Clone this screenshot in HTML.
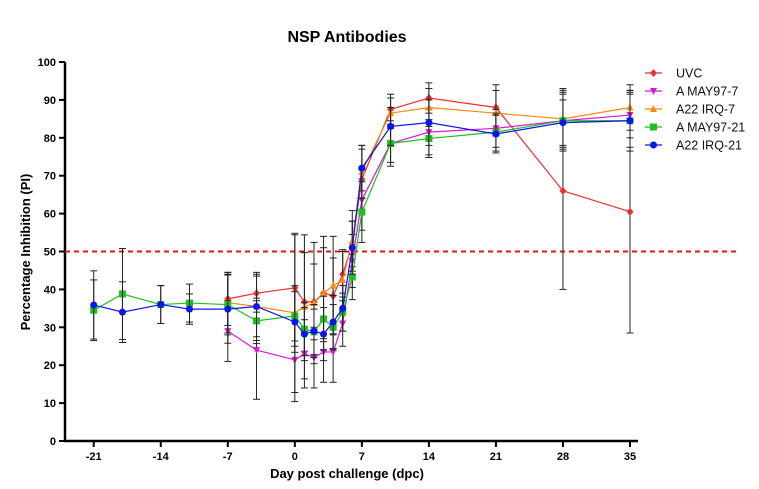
<!DOCTYPE html>
<html><head><meta charset="utf-8"><style>
body{margin:0;background:#fff;}
svg{display:block;font-family:"Liberation Sans",Arial,sans-serif;}
</style></head><body>
<svg id="chart" width="759" height="489">
<text x="347" y="42" text-anchor="middle" font-size="16" font-weight="bold">NSP Antibodies</text>
<text x="347" y="478" text-anchor="middle" font-size="13" font-weight="bold">Day post challenge (dpc)</text>
<text transform="translate(30,252) rotate(-90)" text-anchor="middle" font-size="13" font-weight="bold">Percentage Inhibition (PI)</text>
<g id="axes"></g><g id="marks"></g><g id="legend"></g>
</svg>
<script>
const xTicks=[-21,-14,-7,0,7,14,21,28,35];
const yTicks=[0,10,20,30,40,50,60,70,80,90,100];
const seriesNames=["UVC","A MAY97-7","A22 IRQ-7","A MAY97-21","A22 IRQ-21"];
const seriesColors=["#e8332f","#d21bd2","#f68b12","#1fbf1f","#0a16e8"];
const seriesShapes=["diamond","tri-down","tri-up","square","circle"];
const daysLate=[-7,-4,0,1,2,3,4,5,6,7,10,14,21,28,35];
const daysAll=[-21,-18,-14,-11,-7,-4,0,1,2,3,4,5,6,7,10,14,21,28,35];
const uvcVals=[37.5,39,40.4,36.7,36.7,39,38.3,44,52,69,87.5,90.5,88,66,60.5];
const uvcErr=[7,5,14,13,10,12,10,6,6,8,4,4,6,26,32];
const may7Vals=[29,24,21.4,23,22,23.5,23.5,31,47.5,63.6,78.5,81.5,82.5,84.5,86];
const may7Err=[8,13,11,9,8,8,8,6,7,8,5,6,5,7,6];
const irq7Vals=[36.5,35.5,33.8,35.4,36.4,39,41,42.5,52.8,71,86.5,88,86.5,85,88];
const irq7Err=[8,8,21,19,16,15,13,8,8,7,4,5,6,8,6];
const may21Vals=[34.5,38.8,36,36.4,36,31.7,33,29.5,28.8,32.2,30,34,43.3,60.4,78.5,79.8,81.5,84.5,84.5];
const may21Err=[8,12,5,5,8,6,8,7,6,6,6,5,6,8,6,5,5,8,7];
const irq21Vals=[35.9,34,36,34.8,34.8,35.5,31.4,28.2,29,28.2,31.4,35,51,72,83,84,81,84,84.5];
const irq21Err=[9,8,5,4,9,9,8,7,7,7,7,6,7,6,5,6,5,6,8];
const seriesDays=[daysLate,daysLate,daysLate,daysAll,daysAll];
const seriesVals=[uvcVals,may7Vals,irq7Vals,may21Vals,irq21Vals];
const seriesErrs=[uvcErr,may7Err,irq7Err,may21Err,irq21Err];
const NS="http://www.w3.org/2000/svg";
const X0=65,X1=630,Y0=441,Y1=62,DMIN=-24,DMAX=35;
function sx(d){return X0+(d-DMIN)/(DMAX-DMIN)*(X1-X0);}
function sy(v){return Y0-v/100*(Y0-Y1);}
function mk(tag,attrs,parent){const e=document.createElementNS(NS,tag);for(const k in attrs)e.setAttribute(k,attrs[k]);parent.appendChild(e);return e;}
const axes=document.getElementById('axes'),marks=document.getElementById('marks'),legend=document.getElementById('legend');
let a=mk('line',{x1:X0,y1:Y1,x2:X0,y2:Y0+1,stroke:'#000','stroke-width':2.5},axes);

a=mk('line',{x1:X0-1,y1:Y0,x2:X1+8,y2:Y0,stroke:'#000','stroke-width':2.5},axes);

yTicks.forEach(v=>{mk('line',{x1:X0-6,x2:X0,y1:sy(v),y2:sy(v),stroke:'#000','stroke-width':2},axes);
 const t=mk('text',{x:X0-9,y:sy(v)+4,'text-anchor':'end','font-size':11,'font-weight':'bold'},axes);t.textContent=v;
 });
xTicks.forEach(d=>{mk('line',{x1:sx(d),x2:sx(d),y1:Y0,y2:Y0+6,stroke:'#000','stroke-width':2},axes);
 const t=mk('text',{x:sx(d),y:Y0+19,'text-anchor':'middle','font-size':11,'font-weight':'bold'},axes);t.textContent=d;
 });
const ref=mk('line',{x1:X0,x2:737,y1:sy(50),y2:sy(50),stroke:'#e8131a','stroke-width':2,'stroke-dasharray':'5,4'},axes);

function marker(shape,x,y,c,p){const r=3.5;
 if(shape==='circle')return mk('circle',{cx:x,cy:y,r:r,fill:c},p);
 if(shape==='square')return mk('rect',{x:x-r,y:y-r,width:2*r,height:2*r,fill:c},p);
 if(shape==='diamond')return mk('polygon',{points:`${x},${y-r-0.5} ${x+r},${y} ${x},${y+r+0.5} ${x-r},${y}`,fill:c},p);
 if(shape==='tri-up')return mk('polygon',{points:`${x},${y-r-0.5} ${x+r},${y+r-0.5} ${x-r},${y+r-0.5}`,fill:c},p);
 return mk('polygon',{points:`${x},${y+r+0.5} ${x+r},${y-r+0.5} ${x-r},${y-r+0.5}`,fill:c},p);}
seriesNames.forEach((n,i)=>{
 const g=mk('g',{},marks);
 
 
 const ds=seriesDays[i],vs=seriesVals[i],es=seriesErrs[i],c=seriesColors[i];
 ds.forEach((d,j)=>{const x=sx(d),yt=sy(vs[j]+es[j]),yb=sy(Math.max(0,vs[j]-es[j]));
  mk('line',{x1:x,x2:x,y1:yt,y2:yb,stroke:'#222','stroke-width':1},g);
  mk('line',{x1:x-3.5,x2:x+3.5,y1:yt,y2:yt,stroke:'#222','stroke-width':1},g);
  mk('line',{x1:x-3.5,x2:x+3.5,y1:yb,y2:yb,stroke:'#222','stroke-width':1},g);});
 mk('polyline',{points:ds.map((d,j)=>sx(d)+','+sy(vs[j])).join(' '),fill:'none',stroke:c,'stroke-width':1.2},g);
 ds.forEach((d,j)=>{const m=marker(seriesShapes[i],sx(d),sy(vs[j]),c,g);
  });
 const lg=mk('g',{},legend);
 
 
 const ly=73+i*18;
 mk('line',{x1:645,x2:662,y1:ly,y2:ly,stroke:c,'stroke-width':1.2},lg);
 marker(seriesShapes[i],653.5,ly,c,lg);
 const t=mk('text',{x:676,y:ly+4.5,'font-size':12.5,fill:'#111'},lg);t.textContent=n;
});
</script>
</body></html>
